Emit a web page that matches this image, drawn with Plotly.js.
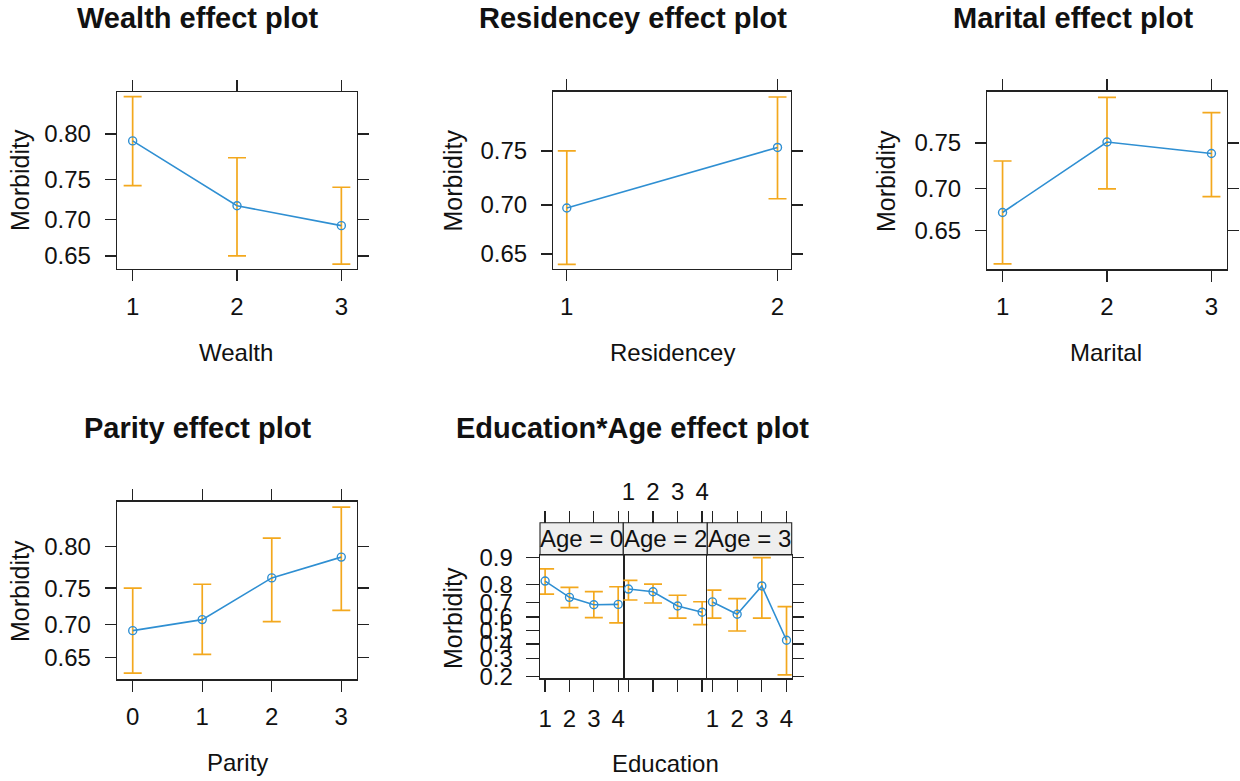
<!DOCTYPE html>
<html>
<head>
<meta charset="utf-8">
<script src="https://cdn.plot.ly/plotly-3.0.1.min.js"></script>
<style>
  html, body { margin: 0; padding: 0; background: #ffffff; }
  #chart { width: 1240px; height: 781px; }
</style>
</head>
<body>
<div id="chart"></div>
<script>
// Fitted morbidity probabilities with lower / upper 95% confidence limits
const wealthLevels = [1, 2, 3];
const wealthFit   = [0.793, 0.718, 0.692];
const wealthLower = [0.743, 0.650, 0.638];
const wealthUpper = [0.835, 0.775, 0.741];
const wealthTicks = [0.65, 0.70, 0.75, 0.80];

const residenceLevels = [1, 2];
const residenceFit   = [0.697, 0.753];
const residenceLower = [0.639, 0.706];
const residenceUpper = [0.750, 0.794];
const residenceTicks = [0.65, 0.70, 0.75];

const maritalLevels = [1, 2, 3];
const maritalFit   = [0.672, 0.751, 0.739];
const maritalLower = [0.607, 0.700, 0.691];
const maritalUpper = [0.731, 0.794, 0.780];
const maritalTicks = [0.65, 0.70, 0.75];

const parityLevels = [0, 1, 2, 3];
const parityFit   = [0.691, 0.707, 0.763, 0.788];
const parityLower = [0.625, 0.655, 0.704, 0.720];
const parityUpper = [0.750, 0.755, 0.809, 0.840];
const parityTicks = [0.65, 0.70, 0.75, 0.80];

const educationLevels = [1, 2, 3, 4];
const ageLevels = [0, 2, 3];
const eduAge0Fit   = [0.815, 0.730, 0.684, 0.686];
const eduAge0Lower = [0.748, 0.665, 0.595, 0.556];
const eduAge0Upper = [0.864, 0.785, 0.762, 0.788];
const eduAge2Fit   = [0.776, 0.762, 0.676, 0.633];
const eduAge2Lower = [0.714, 0.695, 0.592, 0.543];
const eduAge2Upper = [0.818, 0.801, 0.742, 0.703];
const eduAge3Fit   = [0.702, 0.619, 0.792, 0.427];
const eduAge3Lower = [0.592, 0.496, 0.592, 0.208];
const eduAge3Upper = [0.770, 0.722, 0.899, 0.671];
const eduTicks = [0.2, 0.3, 0.4, 0.5, 0.6, 0.7, 0.8, 0.9];

// ---- drawing helpers ----
const W = 1240, H = 781;
const logit = p => Math.log(p / (1 - p));
const px = v => v / W;          // pixel column -> paper x
const py = v => 1 - v / H;      // pixel row -> paper y

const FONT = '"Liberation Sans", Arial, sans-serif';
const TEXT = '#111111';
const LINE = '#222222';
const BLUE = '#2f8fd2';
const ORANGE = '#f3a81d';

function effectTrace(xs, fit, lower, upper, xa, ya) {
  const yFit = fit.map(logit);
  return {
    type: 'scatter', mode: 'lines+markers',
    x: xs, y: yFit, xaxis: xa, yaxis: ya,
    line: { color: BLUE, width: 1.6 },
    marker: { symbol: 'circle-open', size: 8, color: BLUE, line: { width: 1.4, color: BLUE } },
    error_y: {
      type: 'data', symmetric: false,
      array: upper.map((u, i) => logit(u) - yFit[i]),
      arrayminus: lower.map((l, i) => yFit[i] - logit(l)),
      color: ORANGE, thickness: 1.7, width: 9
    },
    hoverinfo: 'skip', showlegend: false
  };
}

const tickFont = { family: FONT, size: 24, color: TEXT };

function xAxis(left, right, range, vals, extra) {
  return Object.assign({
    domain: [px(left), px(right)], range,
    tickmode: 'array', tickvals: vals, ticktext: vals.map(String),
    ticks: 'outside', ticklen: 11, tickwidth: 1.3, tickcolor: LINE,
    showline: true, linecolor: LINE, linewidth: 1.3, mirror: 'ticks',
    showgrid: false, zeroline: false, fixedrange: true,
    tickfont: tickFont, ticklabelstandoff: 5
  }, extra || {});
}

function yAxis(top, bottom, lim, vals, digits, extra) {
  return Object.assign({
    domain: [py(bottom), py(top)], range: [logit(lim[0]), logit(lim[1])],
    tickmode: 'array', tickvals: vals.map(logit), ticktext: vals.map(v => v.toFixed(digits)),
    ticks: 'outside', ticklen: 11, tickwidth: 1.3, tickcolor: LINE,
    showline: true, linecolor: LINE, linewidth: 1.3, mirror: 'ticks',
    showgrid: false, zeroline: false, fixedrange: true,
    tickfont: tickFont, ticklabelstandoff: 9
  }, extra || {});
}

const traces = [
  effectTrace(wealthLevels, wealthFit, wealthLower, wealthUpper, 'x', 'y'),
  effectTrace(residenceLevels, residenceFit, residenceLower, residenceUpper, 'x2', 'y2'),
  effectTrace(maritalLevels, maritalFit, maritalLower, maritalUpper, 'x3', 'y3'),
  effectTrace(parityLevels, parityFit, parityLower, parityUpper, 'x4', 'y4'),
  effectTrace(educationLevels, eduAge0Fit, eduAge0Lower, eduAge0Upper, 'x5', 'y5'),
  effectTrace(educationLevels, eduAge2Fit, eduAge2Lower, eduAge2Upper, 'x6', 'y6'),
  effectTrace(educationLevels, eduAge3Fit, eduAge3Lower, eduAge3Upper, 'x7', 'y7'),
  // carriers for the top tick axes of the conditioned panel
  { type: 'scatter', x: [], y: [], xaxis: 'x8', yaxis: 'y5', showlegend: false, hoverinfo: 'skip' },
  { type: 'scatter', x: [], y: [], xaxis: 'x9', yaxis: 'y6', showlegend: false, hoverinfo: 'skip' },
  { type: 'scatter', x: [], y: [], xaxis: 'x10', yaxis: 'y7', showlegend: false, hoverinfo: 'skip' }
];

// conditioned panel geometry (pixels)
const panelCols = [[540, 623.3], [623.3, 707.3], [707.3, 791.7]];
const stripTop = 522.7, plotTop = 555, plotBottom = 678.3;
const eduRange = [0.79, 4.21];
const eduLim = [0.192, 0.906];

const topAxis = (over, showLabels) => ({
  overlaying: over, anchor: 'free', position: py(stripTop), side: 'top',
  range: eduRange, tickmode: 'array', tickvals: educationLevels, ticktext: educationLevels.map(String),
  ticks: 'outside', ticklen: 12, tickwidth: 1.3, tickcolor: LINE,
  showline: false, showgrid: false, zeroline: false, fixedrange: true,
  showticklabels: showLabels, tickfont: tickFont, ticklabelstandoff: 1
});

const layout = {
  width: W, height: H,
  margin: { l: 0, r: 0, t: 0, b: 0 },
  paper_bgcolor: '#ffffff', plot_bgcolor: 'rgba(0,0,0,0)',
  showlegend: false,
  font: { family: FONT, color: TEXT },

  xaxis:  xAxis(117, 357, [0.85, 3.15], wealthLevels),
  yaxis:  yAxis(92, 269, [0.631, 0.839], wealthTicks, 2),
  xaxis2: xAxis(553.3, 791, [0.936, 2.064], residenceLevels, { anchor: 'y2' }),
  yaxis2: yAxis(91.7, 269, [0.634, 0.798], residenceTicks, 2, { anchor: 'x2' }),
  xaxis3: xAxis(987.3, 1226.7, [0.854, 3.146], maritalLevels, { anchor: 'y3' }),
  yaxis3: yAxis(91.7, 269.3, [0.600, 0.799], maritalTicks, 2, { anchor: 'x3' }),
  xaxis4: xAxis(117, 357, [-0.226, 3.226], parityLevels, { anchor: 'y4' }),
  yaxis4: yAxis(501.7, 679.3, [0.615, 0.845], parityTicks, 2, { anchor: 'x4' }),

  xaxis5: xAxis(panelCols[0][0], panelCols[0][1], eduRange, educationLevels,
                { anchor: 'y5', mirror: true, ticklen: 12, ticklabelstandoff: 7 }),
  xaxis6: xAxis(panelCols[1][0], panelCols[1][1], eduRange, educationLevels,
                { anchor: 'y6', mirror: true, ticklen: 12, showticklabels: false }),
  xaxis7: xAxis(panelCols[2][0], panelCols[2][1], eduRange, educationLevels,
                { anchor: 'y7', mirror: true, ticklen: 12, ticklabelstandoff: 7 }),
  yaxis5: yAxis(plotTop, plotBottom, eduLim, eduTicks, 1,
                { anchor: 'x5', mirror: true, ticklen: 13, ticklabelstandoff: 8 }),
  yaxis6: yAxis(plotTop, plotBottom, eduLim, eduTicks, 1,
                { anchor: 'x6', ticks: '', showline: false, mirror: false, showticklabels: false }),
  yaxis7: yAxis(plotTop, plotBottom, eduLim, eduTicks, 1,
                { anchor: 'x7', side: 'right', mirror: true, showticklabels: false }),
  xaxis8: topAxis('x5', false),
  xaxis9: topAxis('x6', true),
  xaxis10: topAxis('x7', false),

  shapes: panelCols.map(c => ({
    type: 'rect', xref: 'paper', yref: 'paper',
    x0: px(c[0]), x1: px(c[1]), y0: py(plotTop), y1: py(stripTop),
    fillcolor: '#eeeeee', line: { color: LINE, width: 1.1 }, layer: 'below'
  })),

  annotations: []
};

const note = (text, x, y, size, extra) => layout.annotations.push(Object.assign({
  text, xref: 'paper', yref: 'paper', x: px(x), y: py(y),
  xanchor: 'center', yanchor: 'middle', showarrow: false,
  font: { family: FONT, size, color: TEXT }
}, extra || {}));

// panel titles
note('<b>Wealth effect plot</b>', 197, 18, 29);
note('<b>Residencey effect plot</b>', 632.5, 18, 29);
note('<b>Marital effect plot</b>', 1073, 18, 29);
note('<b>Parity effect plot</b>', 197.5, 428, 29);
note('<b>Education*Age effect plot</b>', 632.5, 428, 29);

// axis labels
note('Wealth', 236, 352, 24);
note('Residencey', 672, 352, 24);
note('Marital', 1106, 352, 24);
note('Parity', 237, 762, 24);
note('Education', 665, 763, 24);
[[20, 180], [452.5, 181], [886, 181], [20, 591], [453, 618]].forEach(p =>
  note('Morbidity', p[0], p[1], 25, { textangle: -90 }));

// strip labels of the conditioned panel
ageLevels.forEach((a, i) =>
  note('Age = ' + a, (panelCols[i][0] + panelCols[i][1]) / 2, (stripTop + plotTop) / 2, 24));

Plotly.newPlot('chart', traces, layout, { staticPlot: true, displayModeBar: false });
</script>
</body>
</html>
